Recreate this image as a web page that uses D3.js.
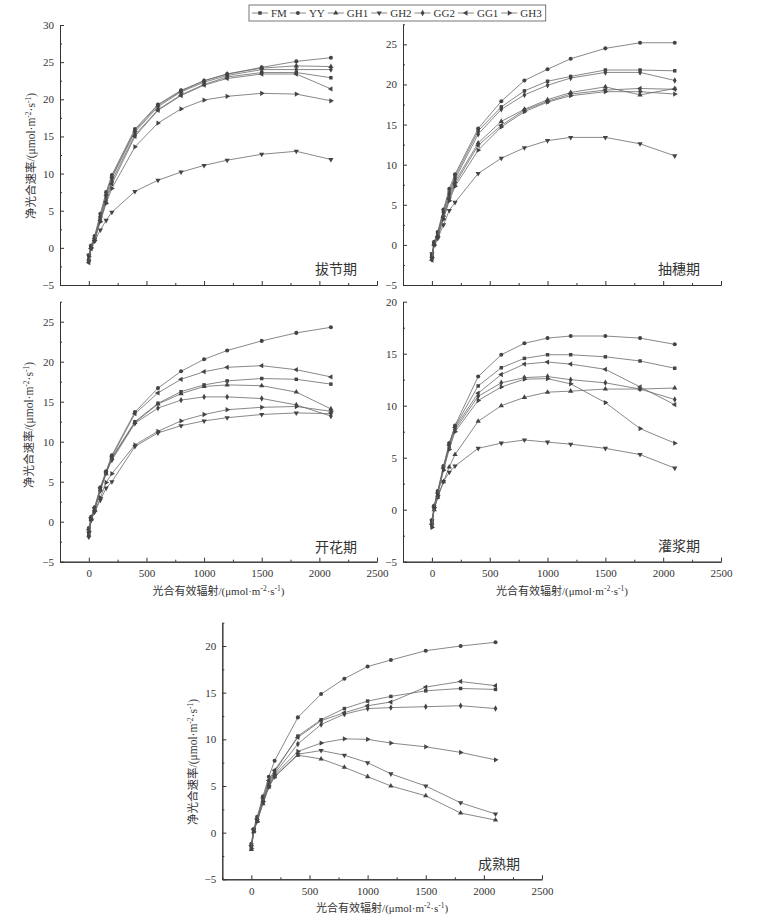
<!DOCTYPE html>
<html>
<head>
<meta charset="utf-8">
<script src="https://cdn.jsdelivr.net/npm/d3@7/dist/d3.min.js"></script>
<style>
  body { margin: 0; background: #fff; }
  svg text { font-family: "Liberation Serif", "Noto Sans CJK SC", serif; fill: #333; }
</style>
</head>
<body>
<svg id="chart" width="757" height="923"></svg>
<script>
// ---------------- DATA ----------------
const seriesNames = ["FM", "YY", "GH1", "GH2", "GG2", "GG1", "GH3"];
const parValues = [0, 20, 50, 100, 150, 200, 400, 600, 800, 1000, 1200, 1500, 1800, 2100];

// 拔节期 (rows in seriesNames order)
const jointing = [
  [-1.7, 0.0, 1.2, 3.8, 6.6, 9.0, 15.2, 18.6, 20.6, 22.0, 23.0, 23.6, 23.6, 22.9],
  [-1.0, 0.3, 1.6, 4.6, 7.5, 9.8, 16.0, 19.3, 21.2, 22.5, 23.4, 24.3, 25.1, 25.6],
  [-1.5, 0.1, 1.4, 4.3, 7.2, 9.6, 15.8, 19.2, 21.1, 22.5, 23.4, 24.2, 24.5, 24.4],
  [-1.0, 0.2, 0.9, 2.4, 3.7, 4.8, 7.6, 9.1, 10.2, 11.1, 11.8, 12.6, 13.0, 11.9],
  [-1.8, 0.0, 1.3, 4.0, 7.0, 9.4, 15.6, 19.0, 21.0, 22.3, 23.2, 24.0, 24.0, 24.0],
  [-2.0, -0.1, 1.0, 3.7, 6.2, 8.6, 15.0, 18.5, 20.5, 21.9, 22.8, 23.4, 23.4, 21.4],
  [-1.2, 0.0, 1.0, 3.5, 6.0, 8.0, 13.6, 16.8, 18.7, 19.9, 20.4, 20.8, 20.7, 19.8]
];
// 抽穗期
const heading = [
  [-1.5, 0.3, 1.5, 4.2, 6.6, 8.5, 14.2, 17.2, 19.2, 20.4, 21.0, 21.8, 21.8, 21.7],
  [-1.2, 0.4, 1.6, 4.4, 7.0, 8.8, 14.5, 17.9, 20.5, 21.9, 23.2, 24.5, 25.2, 25.2],
  [-1.4, 0.1, 1.2, 3.7, 6.0, 7.9, 12.7, 15.4, 16.9, 18.1, 19.0, 19.7, 18.7, 19.5],
  [-1.1, 0.2, 0.8, 2.5, 4.3, 5.3, 8.9, 10.8, 12.1, 13.0, 13.4, 13.4, 12.6, 11.1],
  [-1.8, 0.2, 1.3, 4.0, 6.3, 8.2, 13.8, 16.9, 18.7, 19.9, 20.8, 21.5, 21.5, 20.5],
  [-1.9, 0.0, 1.0, 3.4, 5.7, 7.6, 12.4, 14.9, 16.8, 17.9, 18.8, 19.3, 19.5, 19.4],
  [-1.6, 0.0, 1.0, 3.2, 5.5, 7.3, 11.8, 14.7, 16.6, 17.8, 18.6, 19.1, 19.1, 18.8]
];
// 开花期
const flowering = [
  [-1.5, 0.4, 1.6, 4.0, 6.2, 8.0, 12.5, 14.8, 16.25, 17.1, 17.6, 17.9, 17.8, 17.2],
  [-0.8, 0.6, 1.8, 4.3, 6.3, 8.3, 13.7, 16.7, 18.8, 20.3, 21.4, 22.6, 23.6, 24.3],
  [-1.7, 0.3, 1.5, 4.0, 6.0, 7.9, 12.4, 14.7, 16.0, 16.9, 17.1, 17.0, 16.2, 14.1],
  [-1.4, 0.2, 1.2, 2.7, 4.2, 5.0, 9.4, 11.1, 12.0, 12.6, 13.0, 13.4, 13.6, 13.5],
  [-1.9, 0.2, 1.4, 3.9, 6.1, 7.7, 12.3, 14.2, 15.2, 15.6, 15.6, 15.4, 14.6, 13.2],
  [-1.0, 0.5, 1.7, 4.2, 6.2, 8.1, 13.5, 16.1, 17.8, 18.75, 19.3, 19.5, 19.0, 18.1],
  [-1.2, 0.3, 1.3, 3.0, 4.9, 6.0, 9.6, 11.3, 12.6, 13.4, 14.0, 14.3, 14.4, 13.8]
];
// 灌浆期
const filling = [
  [-1.2, 0.3, 1.7, 4.1, 6.3, 8.0, 11.9, 13.65, 14.55, 14.9, 14.9, 14.7, 14.3, 13.6],
  [-1.0, 0.4, 1.8, 4.2, 6.4, 8.1, 12.8, 14.9, 16.0, 16.5, 16.7, 16.7, 16.5, 15.9],
  [-1.3, 0.0, 1.2, 2.7, 4.1, 5.3, 8.5, 10.0, 10.8, 11.3, 11.4, 11.6, 11.6, 11.7],
  [-1.1, 0.1, 1.2, 2.7, 3.6, 4.2, 5.9, 6.4, 6.7, 6.5, 6.3, 5.9, 5.3, 4.0],
  [-1.6, 0.2, 1.5, 3.9, 6.0, 7.7, 10.9, 12.2, 12.7, 12.8, 12.5, 12.2, 11.6, 10.6],
  [-1.4, 0.3, 1.6, 4.0, 6.2, 7.9, 11.2, 13.0, 14.0, 14.2, 14.0, 13.5, 11.8, 10.1],
  [-1.7, 0.2, 1.4, 3.8, 5.8, 7.5, 10.5, 11.8, 12.55, 12.6, 12.1, 10.3, 7.8, 6.4]
];
// 成熟期
const maturity = [
  [-1.6, 0.2, 1.4, 3.5, 5.4, 6.5, 10.35, 12.1, 13.3, 14.1, 14.6, 15.2, 15.45, 15.35],
  [-1.2, 0.4, 1.7, 3.9, 6.0, 7.7, 12.35, 14.85, 16.5, 17.8, 18.5, 19.5, 20.0, 20.4],
  [-1.8, 0.1, 1.2, 3.1, 4.9, 6.0, 8.3, 7.9, 7.0, 6.0, 5.0, 3.95, 2.1, 1.35],
  [-1.5, 0.3, 1.3, 3.2, 4.9, 6.0, 8.4, 8.8, 8.3, 7.5, 6.3, 5.0, 3.2, 2.0],
  [-1.3, 0.2, 1.3, 3.4, 5.2, 6.35, 9.5, 11.6, 12.7, 13.3, 13.4, 13.5, 13.6, 13.3],
  [-1.4, 0.3, 1.5, 3.7, 5.6, 6.7, 10.2, 12.0, 12.85, 13.6, 14.0, 15.6, 16.2, 15.75],
  [-1.7, 0.1, 1.2, 3.3, 5.0, 6.2, 8.7, 9.6, 10.05, 10.0, 9.6, 9.2, 8.6, 7.8]
];

const stageLabels = ["拔节期", "抽穗期", "开花期", "灌浆期", "成熟期"];
const xTicks = [0, 500, 1000, 1500, 2000, 2500];
const yTitle = ["净光合速率/(μmol·m", "-2", "·s", "-1", ")"];
const xTitle = ["光合有效辐射/(μmol·m", "-2", "·s", "-1", ")"];

// ---------------- LAYOUT ----------------
const panels = [
  { data: jointing,  yMax: 30,   x0: 60,    x1: 377, y0: 285,   y1: 25,    xLab: false, yTit: [35, 156],  lab: [315, 274] },
  { data: heading,   yMax: 27.5, x0: 403,   x1: 721, y0: 285,   y1: 24.3,  xLab: false, yTit: null,       lab: [658, 274] },
  { data: flowering, yMax: 27.5, x0: 60,    x1: 377, y0: 561.7, y1: 301.7, xLab: true,  yTit: [33, 425],  lab: [315, 552] },
  { data: filling,   yMax: 20,   x0: 403,   x1: 721, y0: 561.7, y1: 301.7, xLab: true,  yTit: null,       lab: [658, 551] },
  { data: maturity,  yMax: 22.5, x0: 222.3, x1: 542, y0: 879.3, y1: 622.7, xLab: true,  yTit: [197, 762], lab: [478, 869] }
];

const symbols = [
  { t: d3.symbolSquare, r: 0 },
  { t: d3.symbolCircle, r: 0 },
  { t: d3.symbolTriangle, r: 0 },
  { t: d3.symbolTriangle, r: 180 },
  { t: d3.symbolDiamond, r: 0 },
  { t: d3.symbolTriangle, r: -90 },
  { t: d3.symbolTriangle, r: 90 }
];
const lineColor = "#6a6a6a";
const markColor = "#444";
const axisColor = "#333";

const svg = d3.select("#chart");

function addSuperText(sel, parts) {
  sel.append("tspan").text(parts[0]);
  sel.append("tspan").attr("font-size", "7.5px").attr("dy", "-4").text(parts[1]);
  sel.append("tspan").attr("dy", "4").text(parts[2]);
  sel.append("tspan").attr("font-size", "7.5px").attr("dy", "-4").text(parts[3]);
  sel.append("tspan").attr("dy", "4").text(parts[4]);
}

panels.forEach((p, pi) => {
  const x = d3.scaleLinear().domain([-250, 2500]).range([p.x0, p.x1]);
  const y = d3.scaleLinear().domain([-5, p.yMax]).range([p.y0, p.y1]);
  const g = svg.append("g");

  const xMinor = d3.range(-250, 2501, 250).filter(v => v % 500 !== 0);
  const yMinor = d3.range(-2.5, p.yMax + 0.01, 5);

  const xAxis = d3.axisBottom(x).tickValues(xTicks).tickSizeInner(-4).tickSizeOuter(0).tickPadding(8)
    .tickFormat(p.xLab ? d3.format("d") : () => "");
  g.append("g").attr("transform", `translate(0,${p.y0})`).call(xAxis);
  g.append("g").attr("transform", `translate(0,${p.y0})`)
    .call(d3.axisBottom(x).tickValues(xMinor).tickSizeInner(-2).tickSizeOuter(0).tickFormat(() => ""));

  const yTicks = d3.range(-5, p.yMax + 0.01, 5);
  const yAxis = d3.axisLeft(y).tickValues(yTicks).tickSizeInner(-4).tickSizeOuter(0).tickPadding(6)
    .tickFormat(d3.format("d"));
  g.append("g").attr("transform", `translate(${p.x0},0)`).call(yAxis);
  g.append("g").attr("transform", `translate(${p.x0},0)`)
    .call(d3.axisLeft(y).tickValues(yMinor).tickSizeInner(-2).tickSizeOuter(0).tickFormat(() => ""));

  g.selectAll(".domain, .tick line").attr("stroke", axisColor).attr("stroke-width", 1);
  g.selectAll(".tick text").attr("font-size", "11px").attr("fill", "#333")
    .style("font-family", "'Liberation Serif', serif");

  const line = d3.line().x((d, i) => x(parValues[i])).y(d => y(d));
  p.data.forEach((vals, si) => {
    g.append("path").attr("d", line(vals)).attr("fill", "none")
      .attr("stroke", lineColor).attr("stroke-width", 0.8);
    const sym = d3.symbol().type(symbols[si].t).size(si === 1 ? 13 : 12);
    g.selectAll(null).data(vals).enter().append("path")
      .attr("d", sym)
      .attr("transform", (d, i) => `translate(${x(parValues[i])},${y(d)}) rotate(${symbols[si].r})`)
      .attr("fill", markColor);
  });

  g.append("text").attr("x", p.lab[0]).attr("y", p.lab[1]).attr("font-size", "14px")
    .text(stageLabels[pi]);

  if (p.yTit) {
    const t = g.append("text").attr("font-size", "11.5px").attr("text-anchor", "middle")
      .attr("transform", `translate(${p.yTit[0]},${p.yTit[1]}) rotate(-90)`);
    addSuperText(t, yTitle);
  }
  if (p.xLab) {
    const t = g.append("text").attr("font-size", "11px").attr("text-anchor", "middle")
      .attr("x", (p.x0 + p.x1) / 2).attr("y", p.y0 + 33);
    addSuperText(t, xTitle);
  }
});

// ---------------- LEGEND ----------------
const leg = svg.append("g");
const legX = 249, legY = 5, legH = 16;
let cx = legX + 3;
const itemPos = [];
const tmp = leg.append("text").attr("font-size", "11px");
seriesNames.forEach((n, i) => {
  tmp.text(n);
  const w = tmp.node().getComputedTextLength();
  itemPos.push({ n, lx: cx, tx: cx + 19, i });
  cx += 19 + w + 3;
});
tmp.remove();
leg.append("rect").attr("x", legX).attr("y", legY).attr("width", cx - legX + 1).attr("height", legH)
  .attr("fill", "#fff").attr("stroke", "#555").attr("stroke-width", 0.8);
itemPos.forEach(it => {
  leg.append("line").attr("x1", it.lx).attr("x2", it.lx + 16).attr("y1", legY + legH / 2).attr("y2", legY + legH / 2)
    .attr("stroke", lineColor).attr("stroke-width", 0.8);
  leg.append("path").attr("d", d3.symbol().type(symbols[it.i].t).size(12))
    .attr("transform", `translate(${it.lx + 8},${legY + legH / 2}) rotate(${symbols[it.i].r})`)
    .attr("fill", markColor);
  leg.append("text").attr("x", it.tx).attr("y", legY + legH / 2 + 4).attr("font-size", "11px").text(it.n);
});
</script>
</body>
</html>
